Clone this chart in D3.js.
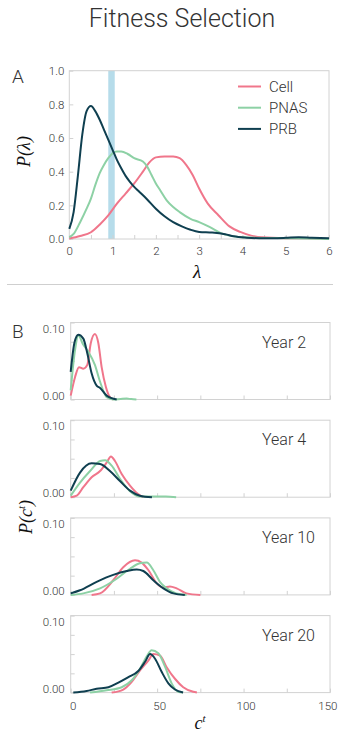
<!DOCTYPE html>
<html>
<head>
<meta charset="utf-8">
<script src="https://cdn.jsdelivr.net/npm/d3@7"></script>
<style>
  html, body { margin: 0; padding: 0; background: #fff; }
  svg { display: block; }
  .sans { font-family: Roboto, "Open Sans", "Liberation Sans", sans-serif; font-weight: 300; }
  .serif { font-family: "Liberation Serif", "DejaVu Serif", serif; font-style: italic; }
</style>
</head>
<body>
<svg id="fig" width="338" height="734"></svg>
<script>
// ---- Panel A: distribution of lambda for three fitness models ----
const seriesNames = ["Cell", "PNAS", "PRB"];
const seriesColors = ["#f0768b", "#8dd1a5", "#0f3f50"];

const lambdaCell = [
  [0, 0.003], [0.25, 0.018], [0.5, 0.04], [0.7, 0.085], [0.9, 0.14], [1.1, 0.21],
  [1.3, 0.27], [1.5, 0.33], [1.7, 0.40], [1.85, 0.455], [2.0, 0.485], [2.2, 0.49],
  [2.4, 0.49], [2.55, 0.48], [2.7, 0.44], [2.85, 0.38], [3.0, 0.30], [3.2, 0.21],
  [3.45, 0.14], [3.7, 0.075], [3.95, 0.042], [4.2, 0.02], [4.45, 0.01], [5.0, 0.005],
  [5.5, 0.004], [6.0, 0.0]
];
const lambdaPNAS = [
  [0, 0.01], [0.1, 0.03], [0.25, 0.10], [0.4, 0.18], [0.5, 0.24], [0.6, 0.32],
  [0.7, 0.39], [0.8, 0.44], [0.9, 0.48], [1.0, 0.51], [1.1, 0.52], [1.2, 0.52],
  [1.35, 0.505], [1.5, 0.48], [1.7, 0.46], [1.8, 0.43], [1.9, 0.38], [2.0, 0.33],
  [2.1, 0.29], [2.25, 0.23], [2.4, 0.19], [2.55, 0.16], [2.8, 0.12], [3.0, 0.10],
  [3.25, 0.07], [3.5, 0.035], [3.7, 0.02], [4.0, 0.01], [4.5, 0.006], [5.0, 0.005],
  [5.5, 0.003], [6.0, 0.0]
];
const lambdaPRB = [
  [0, 0.06], [0.1, 0.16], [0.2, 0.38], [0.3, 0.62], [0.4, 0.76], [0.5, 0.79],
  [0.6, 0.76], [0.7, 0.71], [0.8, 0.65], [0.9, 0.59], [1.0, 0.53], [1.1, 0.47],
  [1.2, 0.42], [1.3, 0.375], [1.4, 0.34], [1.5, 0.31], [1.6, 0.285], [1.8, 0.235],
  [2.0, 0.18], [2.2, 0.135], [2.4, 0.10], [2.6, 0.075], [2.8, 0.055], [3.0, 0.042],
  [3.3, 0.038], [3.6, 0.028], [3.8, 0.016], [4.1, 0.008], [4.5, 0.004], [5.0, 0.007],
  [5.3, 0.01], [5.6, 0.007], [6.0, 0.004]
];
const lambdaBand = [0.9, 1.05];
const lambdaTicks = [0, 0.5, 1, 1.5, 2, 2.5, 3, 3.5, 4, 4.5, 5, 5.5, 6];
const probTicks = [0, 0.2, 0.4, 0.6, 0.8, 1.0];

// ---- Panel B: distribution of c^t at several years ----
const years = ["Year 2", "Year 4", "Year 10", "Year 20"];
const ctCell = [
  [[0, 0.005], [2.5, 0.029], [4.8, 0.042], [7.3, 0.040], [9.6, 0.045], [11.6, 0.073], [14, 0.085], [16, 0.073], [17.9, 0.042], [20.4, 0.016], [22.7, 0.003], [24.6, 0]],
  [[0, 0], [3.5, 0.002], [7.3, 0.013], [12.1, 0.026], [17, 0.034], [20.8, 0.045], [23.3, 0.053], [25.6, 0.047], [29.5, 0.030], [34.3, 0.015], [39, 0.004], [42, 0]],
  [[12.1, 0], [17, 0.002], [24.6, 0.019], [30.4, 0.036], [37.2, 0.045], [41, 0.042], [45, 0.032], [49.8, 0.015], [53.6, 0.0095], [57.4, 0.011], [61.3, 0.0085], [67, 0.002], [75, 0]],
  [[23.7, 0], [30.4, 0.004], [35.3, 0.014], [40.1, 0.029], [45, 0.042], [47.8, 0.05], [51.7, 0.048], [55.5, 0.033], [60.3, 0.018], [65.1, 0.007], [70.9, 0.001], [73, 0]]
];
const ctPNAS = [
  [[0, 0.012], [2.5, 0.064], [4.4, 0.083], [7.3, 0.071], [10.2, 0.062], [14, 0.045], [17, 0.023], [20.8, 0.003], [24.6, 0], [29, 0.0008], [32.4, 0.0012], [35, 0.0005], [38, 0]],
  [[0, 0.002], [5.4, 0.019], [11.2, 0.034], [17, 0.047], [19.9, 0.048], [23.7, 0.041], [28.5, 0.024], [34, 0.0085], [40, 0.001], [48, 0.001], [55, 0.0008], [61, 0]],
  [[0, 0], [7.3, 0.002], [17, 0.0085], [26.6, 0.021], [34.3, 0.034], [40, 0.041], [44, 0.042], [47.8, 0.032], [51.6, 0.017], [55.5, 0.0085], [61, 0.002], [67, 0]],
  [[11.2, 0], [20.8, 0.003], [29.5, 0.007], [35.3, 0.016], [40.1, 0.031], [44, 0.047], [46.8, 0.055], [50.7, 0.051], [54.5, 0.034], [58.4, 0.012], [62.2, 0.001], [65, 0]]
];
const ctPRB = [
  [[0, 0.036], [2.2, 0.074], [4.4, 0.084], [7.3, 0.079], [9.6, 0.06], [12.1, 0.034], [15, 0.018], [17, 0.015], [20.8, 0.005], [26.6, 0]],
  [[0, 0.0085], [5.4, 0.032], [12.1, 0.044], [17, 0.043], [22.7, 0.034], [28.5, 0.021], [34.3, 0.0085], [40, 0.002], [47, 0]],
  [[0, 0.002], [5.4, 0.006], [15, 0.017], [24.6, 0.026], [32.4, 0.031], [38.2, 0.033], [42, 0.031], [47.8, 0.019], [53.6, 0.0085], [59.4, 0.002], [66, 0]],
  [[1.5, 0], [9.2, 0.002], [15, 0.005], [21.8, 0.007], [27.6, 0.013], [33.4, 0.02], [39.1, 0.028], [43, 0.04], [45.9, 0.05], [48.8, 0.044], [52.6, 0.027], [56.5, 0.012], [60.3, 0.004], [65, 0]]
];
const ctTicks = [0, 25, 50, 75, 100, 125, 150];
const ctTickLabels = [0, 50, 100, 150];
const densTicks = [0, 0.025, 0.05, 0.075, 0.1];

// ---- drawing ----
const svg = d3.select("#fig");
const frameColor = "#d2d2d2";
const textColor = "#333";

svg.append("text").attr("class", "sans")
  .attr("x", 182).attr("y", 27).attr("text-anchor", "middle")
  .attr("font-size", 25).attr("fill", textColor)
  .text("Fitness Selection");

// Panel A
const A = { left: 69.3, right: 329, top: 70.7, bottom: 239 };
const xA = d3.scaleLinear().domain([0, 6]).range([A.left, A.right]);
const yA = d3.scaleLinear().domain([0, 1]).range([A.bottom, A.top]);

const gA = svg.append("g");
gA.append("rect")
  .attr("x", xA(lambdaBand[0])).attr("y", yA(1))
  .attr("width", xA(lambdaBand[1]) - xA(lambdaBand[0]))
  .attr("height", yA(0) - yA(1))
  .attr("fill", "#a9d6e6").attr("opacity", 0.85);

gA.append("rect")
  .attr("x", A.left).attr("y", A.top)
  .attr("width", A.right - A.left).attr("height", A.bottom - A.top)
  .attr("fill", "none").attr("stroke", frameColor);

const axA = gA.append("g").attr("transform", `translate(0,${A.bottom})`)
  .call(d3.axisBottom(xA).tickValues(lambdaTicks).tickSizeInner(-4).tickSizeOuter(0).tickPadding(8)
    .tickFormat(d => Number.isInteger(d) ? d : ""));
const ayA = gA.append("g").attr("transform", `translate(${A.left},0)`)
  .call(d3.axisLeft(yA).tickValues(probTicks).tickSizeInner(-4).tickSizeOuter(0).tickPadding(5)
    .tickFormat(d3.format(".1f")));
[axA, ayA].forEach(g => {
  g.select(".domain").remove();
  g.selectAll(".tick line").attr("stroke", frameColor);
  g.selectAll(".tick text").attr("class", "sans").attr("font-size", 11.5).attr("fill", textColor);
});

const lineA = d3.line().x(d => xA(d[0])).y(d => yA(d[1])).curve(d3.curveMonotoneX);
[lambdaCell, lambdaPNAS, lambdaPRB].forEach((s, i) => {
  gA.append("path").datum(s).attr("d", lineA)
    .attr("fill", "none").attr("stroke", seriesColors[i]).attr("stroke-width", 2)
    .attr("stroke-linejoin", "round");
});

// legend
seriesNames.forEach((name, i) => {
  const y = 86.5 + i * 21.2;
  gA.append("line").attr("x1", 238).attr("x2", 261).attr("y1", y).attr("y2", y)
    .attr("stroke", seriesColors[i]).attr("stroke-width", 2);
  gA.append("text").attr("class", "sans").attr("x", 269).attr("y", y).attr("dy", "0.36em")
    .attr("font-size", 15).attr("fill", textColor).text(name);
});

svg.append("text").attr("class", "sans").attr("x", 12).attr("y", 83)
  .attr("font-size", 19).attr("fill", textColor).text("A");
svg.append("text").attr("class", "serif")
  .attr("transform", "translate(30,151.5) rotate(-90)").attr("text-anchor", "middle")
  .attr("font-size", 18).attr("fill", "#111").text("P(λ)");
svg.append("text").attr("class", "serif").attr("x", 197).attr("y", 278)
  .attr("text-anchor", "middle").attr("font-size", 19).attr("fill", "#111").text("λ");

// separator
svg.append("line").attr("x1", 7).attr("x2", 333).attr("y1", 284.5).attr("y2", 284.5)
  .attr("stroke", "#cfcfcf").attr("stroke-width", 1);

// Panel B
const B = { left: 70.7, right: 330, firstTop: 322.5, step: 97.7, height: 77 };
const xB = d3.scaleLinear().domain([0, 150]).range([B.left, B.right]);
const lineCurve = d3.curveMonotoneX;

years.forEach((yr, k) => {
  const top = B.firstTop + k * B.step;
  const bottom = top + B.height;
  const yB = d3.scaleLinear().domain([0, 0.1]).range([bottom, top]);
  const g = svg.append("g");

  g.append("rect").attr("x", B.left).attr("y", top)
    .attr("width", B.right - B.left).attr("height", B.height)
    .attr("fill", "none").attr("stroke", frameColor);

  const ax = g.append("g").attr("transform", `translate(0,${bottom})`)
    .call(d3.axisBottom(xB).tickValues(ctTicks).tickSizeInner(-4).tickSizeOuter(0).tickPadding(9)
      .tickFormat(d => (k === years.length - 1 && ctTickLabels.includes(d)) ? d : ""));
  const ay = g.append("g").attr("transform", `translate(${B.left},0)`)
    .call(d3.axisLeft(yB).tickValues(densTicks).tickSizeInner(-4).tickSizeOuter(0).tickPadding(6)
      .tickFormat(d => (d === 0 || d === 0.1) ? d3.format(".2f")(d) : ""));
  [ax, ay].forEach(a => {
    a.select(".domain").remove();
    a.selectAll(".tick line").attr("stroke", frameColor);
    a.selectAll(".tick text").attr("class", "sans").attr("font-size", 11.5).attr("fill", textColor);
  });
  ax.selectAll(".tick text").attr("dx", 2);
  // the last label sits at the figure's right edge, so keep it inside
  ax.selectAll(".tick text").filter(d => d === 150).attr("text-anchor", "end").attr("dx", 7);
  ay.selectAll(".tick text").attr("transform", d => d === 0.1 ? "translate(0,6)" : "translate(0,-4)");

  const line = d3.line().x(d => xB(d[0])).y(d => yB(d[1])).curve(lineCurve);
  [ctCell[k], ctPNAS[k], ctPRB[k]].forEach((s, i) => {
    g.append("path").datum(s).attr("d", line)
      .attr("fill", "none").attr("stroke", seriesColors[i]).attr("stroke-width", 2)
      .attr("stroke-linejoin", "round");
  });

  g.append("text").attr("class", "sans").attr("x", 262).attr("y", top + 25)
    .attr("font-size", 16).attr("fill", textColor).text(yr);
});

svg.append("text").attr("class", "sans").attr("x", 12).attr("y", 338)
  .attr("font-size", 19).attr("fill", textColor).text("B");

const yLabB = svg.append("text").attr("class", "serif")
  .attr("transform", "translate(32,517) rotate(-90)").attr("text-anchor", "middle")
  .attr("font-size", 18).attr("fill", "#111");
yLabB.append("tspan").text("P(c");
yLabB.append("tspan").attr("font-size", 11).attr("dy", -7).text("t");
yLabB.append("tspan").attr("dy", 7).text(")");

const xLabB = svg.append("text").attr("class", "serif").attr("x", 200).attr("y", 729)
  .attr("text-anchor", "middle").attr("font-size", 18).attr("fill", "#111");
xLabB.append("tspan").text("c");
xLabB.append("tspan").attr("font-size", 11).attr("dy", -7).text("t");
</script>
</body>
</html>
